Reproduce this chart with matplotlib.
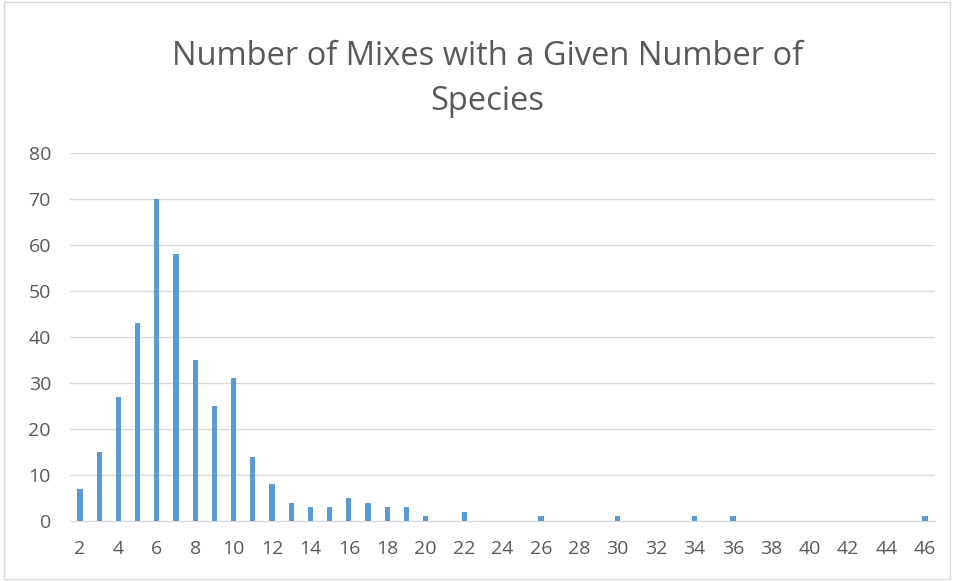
import matplotlib.pyplot as plt
from matplotlib.patches import Rectangle

# number of species in a mix -> how many mixes
species = list(range(2, 47))
counts = {2: 7, 3: 15, 4: 27, 5: 43, 6: 70, 7: 58, 8: 35, 9: 25, 10: 31,
          11: 14, 12: 8, 13: 4, 14: 3, 15: 3, 16: 5, 17: 4, 18: 3, 19: 3,
          20: 1, 22: 2, 26: 1, 30: 1, 34: 1, 36: 1, 46: 1}
n_mixes = [counts.get(s, 0) for s in species]
xtick_labels = [str(s) for s in species[::2]]
ytick_vals = list(range(0, 81, 10))

plt.rcParams['font.family'] = ['Open Sans', 'DejaVu Sans']
txt_col = '#595959'

fig = plt.figure(figsize=(9.54, 5.81), dpi=100)
ax = fig.add_axes([0.0738, 0.1033, 0.9059, 0.6334])

pos = list(range(len(species)))
ax.bar(pos, n_mixes, width=0.27, color='#5b9bd5', zorder=3)

ax.set_xlim(-0.5, len(species) - 0.5)
ax.set_ylim(0, 80)
ax.set_xticks(pos[::2])
ax.set_xticklabels(xtick_labels, fontsize=14, color=txt_col)
ax.set_yticks(ytick_vals)
ax.set_yticklabels([str(v) for v in ytick_vals], fontsize=14, color=txt_col)
ax.tick_params(axis='x', length=0, pad=14)
ax.tick_params(axis='y', length=0, pad=14)
ax.grid(axis='y', color='#d9d9d9', linewidth=1, zorder=0)
for s in ['top', 'right', 'left']:
    ax.spines[s].set_visible(False)
ax.spines['bottom'].set_color('#d9d9d9')

fig.text(0.511, 0.864, 'Number of Mixes with a Given Number of\nSpecies',
         ha='center', va='center', fontsize=23.5, color=txt_col, linespacing=1.5)

# light frame around the whole chart
fig.patches.append(Rectangle((0.004, 0.004), 0.992, 0.992, transform=fig.transFigure,
                             fill=False, edgecolor='#d9d9d9', linewidth=1))

plt.savefig('out.png', dpi=100)
